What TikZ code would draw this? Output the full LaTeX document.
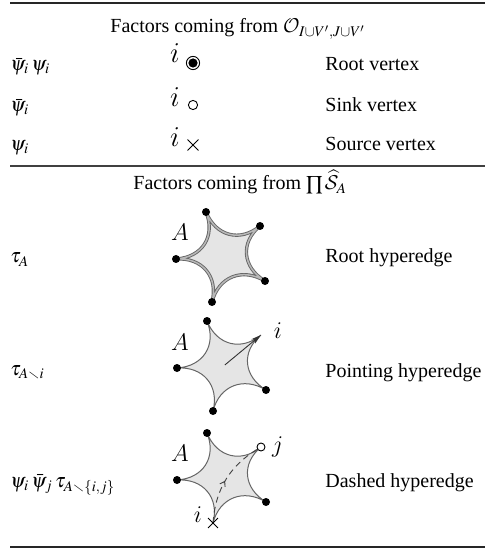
\documentclass[tikz,border=0pt]{standalone}
\usepackage{mathptmx}
\usepackage{amssymb}
\usepackage{fontspec}
\setmainfont{Liberation Serif}
\DeclareMathAlphabet{\mathcal}{OMS}{cmsy}{m}{n}
\usetikzlibrary{arrows.meta,decorations.markings,shapes.misc}

\tikzset{
  txt/.style={inner sep=0pt, anchor=base west, font=\fontsize{10}{12}\selectfont},
  vlab/.style={inner sep=0pt, font=\fontsize{14}{16}\usefont{OML}{lmm}{m}{it}},
  slab/.style={inner sep=0pt, font=\fontsize{12.5}{14}\usefont{OML}{lmm}{m}{it}},
  rulethick/.style={line width=1.4pt, black!85},
  rulethin/.style={line width=0.7pt, black!75},
  dot/.style={fill=black},
  starfill/.style={fill=black!10, draw=black!60, line width=0.5pt},
  stardouble/.style={fill=black!10, draw=black!60, line width=0.45pt,
    double=black!28, double distance=0.75pt},
  % five-cusped hyperedge, cusps a (top), b, c, d, e (clockwise), m centre
  hstar/.pic={
    \coordinate (-a) at (0,0);
    \coordinate (-b) at (54,14);
    \coordinate (-c) at (59,69);
    \coordinate (-d) at (6,90);
    \coordinate (-e) at (-30,47);
    \coordinate (-m) at (17.8,44);
    \path[pic actions] (0,0)
      .. controls (9.79,24.2) and (34.09,30.5) .. (54,14)
      .. controls (34.09,30.5) and (36.34,55.25) .. (59,69)
      .. controls (36.34,55.25) and (12.49,64.7) .. (6,90)
      .. controls (12.49,64.7) and (-3.71,45.35) .. (-30,47)
      .. controls (-3.71,45.35) and (9.79,24.2) .. (0,0) -- cycle;
  }
}

\begin{document}
\begin{tikzpicture}[x=0.5pt, y=-0.5pt]
\useasboundingbox (0,0) rectangle (485,550);

% table rules
\draw[rulethick] (10,3) -- (485,3);
\draw[rulethin] (10,166) -- (485,166);
\draw[rulethick] (10,547) -- (485,547);

% first block: vertex factors
\node[txt] (h1) at (110,33) {Factors coming from $\mathcal{O}_{I\cup V',J\cup V'}$};

\node[txt] (f1) at (10,71) {$\bar{\psi}_i\,\psi_i$};
\node[vlab] (i1) at (175,53) {i};
\node[circle, draw, line width=0.45pt, minimum size=6.6pt, inner sep=0pt] (v1) at (193,63) {};
\fill (v1.center) circle[radius=2.3pt];
\node[txt] (d1) at (325,71) {Root vertex};

\node[txt] (f2) at (10,112) {$\bar{\psi}_i$};
\node[vlab] (i2) at (175,97) {i};
\node[circle, draw, line width=0.45pt, minimum size=4.6pt, inner sep=0pt] (v2) at (193,105) {};
\node[txt] (d2) at (325,112) {Sink vertex};

\node[txt] (f3) at (10,151) {$\psi_i$};
\node[vlab] (i3) at (175,137) {i};
\node[cross out, draw, line width=0.45pt, minimum size=5pt, inner sep=0pt] (v3) at (193,145) {};
\node[txt] (d3) at (325,151) {Source vertex};

% second block: hyperedge factors
\node[txt] (h2) at (133,190) {Factors coming from $\prod\widehat{\mathcal{S}}_A$};

% root hyperedge
\node[txt] (f4) at (10,263) {$\tau_A$};
\pic[stardouble] (s1) at (206,212) {hstar};
\foreach \p in {a,b,c,d,e} \fill[dot] (s1-\p) circle[radius=2pt];
\node[slab] (A1) at (180,232) {A};
\node[txt] (d4) at (325,263) {Root hyperedge};

% pointing hyperedge
\node[txt] (f5) at (10,375) {$\tau_{A\smallsetminus i}$};
\pic[starfill] (s2) at (207,321) {hstar};
\foreach \p in {a,c,d,e} \fill[dot] (s2-\p) circle[radius=2pt];
\draw[black!80, line width=0.45pt, -{Stealth[length=5pt, width=2.8pt, inset=1.2pt]}] (s2-m) -- (s2-b);
\node[slab] (A2) at (180,342) {A};
\node[slab] (il2) at (278,331) {i};
\node[txt] (d5) at (325,377) {Pointing hyperedge};

% dashed hyperedge
\node[txt] (f6) at (10,487) {$\psi_i\,\bar{\psi}_j\,\tau_{A\smallsetminus\{i,j\}}$};
\pic[starfill] (s3) at (207,433) {hstar};
\foreach \p in {a,c,e} \fill[dot] (s3-\p) circle[radius=2pt];
\draw[black!75, line width=0.45pt, dash pattern=on 3pt off 2.2pt,
  postaction={decorate},
  decoration={markings, mark=at position 0.47 with
    {\arrow[solid]{Straight Barb[length=2.2pt, width=3pt]}}}]
  (s3-d) to[bend left=28] (s3-b);
\node[circle, draw, fill=white, line width=0.45pt, minimum size=4pt, inner sep=0pt] (j3) at (s3-b) {};
\node[cross out, draw, line width=0.45pt, minimum size=4.5pt, inner sep=0pt] (x3) at (s3-d) {};
\node[slab] (A3) at (180,453) {A};
\node[slab] (jl3) at (277,447) {j};
\node[slab] (il3) at (198,515) {i};
\node[txt] (d6) at (325,487) {Dashed hyperedge};
\end{tikzpicture}
\end{document}
